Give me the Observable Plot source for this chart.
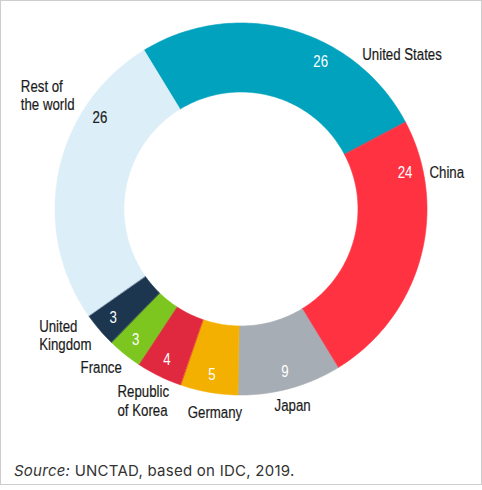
<!DOCTYPE html>
<html>
<head>
<meta charset="utf-8">
<script src="https://cdn.jsdelivr.net/npm/d3@7"></script>
<script src="https://cdn.jsdelivr.net/npm/@observablehq/plot@0.6"></script>
<style>
  body { margin: 0; background: #fff; }
  #frame { position: relative; width: 480px; height: 483px; border: 1px solid #cdcdcd; background: #fff; }
  #chart svg { display: block; }
  #source { position: absolute; left: 13px; top: 461px; font: 15px/18px Inter, "Liberation Sans", sans-serif; letter-spacing: 0.25px; color: #333; }
</style>
</head>
<body>
<div id="frame">
  <div id="chart"></div>
  <div id="source"><i>Source:</i> UNCTAD, based on IDC, 2019.</div>
</div>
<script>
// share of the world's hyperscale data centres (%), clockwise from top
const countries = ["United States", "China", "Japan", "Germany", "Republic of Korea", "France", "United Kingdom", "Rest of the world"]
const labels = ["United States", "China", "Japan", "Germany", "Republic\nof Korea", "France", "United\nKingdom", "Rest of\nthe world"]
const shares = [26, 24, 9, 5, 4, 3, 3, 26]
const colors = ["#00a2bd", "#ff3242", "#a6adb4", "#f3b000", "#e0283e", "#7cc61f", "#1d3650", "#dceef8"]

// ring geometry (in pixel-sized units)
const START = -31.4
const R_OUT = 186
const R_IN = 117
const R_VAL = 168
const font = "'Liberation Sans', Arial, sans-serif"
const NARROW = 0.78 // no condensed face installed, so squeeze the labels

// where the numbers sit when not at the middle of their slice (degrees)
const valueAngle = {"United States": 28.3, "China": 77.5, "Rest of the world": 302.9}
// outer names: angle, radius, anchor
const nameSpot = {
  "United States": [38.0, 197, "start"],
  "China": [79.0, 192, "start"],
  "Japan": [170.3, 199, "start"],
  "Germany": [194.7, 210, "start"],
  "Republic of Korea": [212.8, 228, "start"],
  "France": [217.0, 198, "end"],
  "United Kingdom": [238.0, 238, "start"],
  "Rest of the world": [297.4, 248, "start"]
}

const rad = a => a * Math.PI / 180
const px = (a, r) => r * Math.sin(rad(a))
const py = (a, r) => r * Math.cos(rad(a))

const total = d3.sum(shares)
const slices = []
let acc = 0
countries.forEach((c, i) => {
  const a0 = START + acc / total * 360
  acc += shares[i]
  const a1 = START + acc / total * 360
  slices.push({name: c, label: labels[i], value: shares[i], a0, a1})
})

// polygon outline for each slice
const ring = []
for (const s of slices) {
  const n = Math.max(4, Math.ceil(s.a1 - s.a0))
  for (let k = 0; k <= n; k++) {
    const a = s.a0 + (s.a1 - s.a0) * k / n
    ring.push({name: s.name, x: px(a, R_OUT), y: py(a, R_OUT)})
  }
  for (let k = n; k >= 0; k--) {
    const a = s.a0 + (s.a1 - s.a0) * k / n
    ring.push({name: s.name, x: px(a, R_IN), y: py(a, R_IN)})
  }
}

const values = slices.map(s => {
  const a = valueAngle[s.name] ?? (s.a0 + s.a1) / 2
  return {name: s.name, text: String(s.value), x: px(a, R_VAL), y: py(a, R_VAL)}
})
const names = slices.map(s => {
  const [a, r, anchor] = nameSpot[s.name]
  return {name: s.name, text: s.label, anchor, x: px(a, r), y: py(a, r)}
})

const ink = "#1a1a1a"
const txt = {x: "x", y: "y", text: "text", fontSize: 17}

const chart = Plot.plot({
  width: 480,
  height: 440,
  margin: 0,
  x: {domain: [-239.5, 240.5], axis: null},
  y: {domain: [-232.5, 207.5], axis: null},
  color: {domain: countries, range: colors},
  style: {fontFamily: font, background: "white"},
  marks: [
    Plot.line(ring, {x: "x", y: "y", z: "name", fill: "name", stroke: "name", strokeWidth: 0.6, curve: "linear-closed"}),
    Plot.text(values.filter(d => d.name !== "Rest of the world"), {...txt, fill: "white"}),
    Plot.text(values.filter(d => d.name === "Rest of the world"), {...txt, fill: ink, stroke: ink, strokeWidth: 0.2}),
    Plot.text(names.filter(d => d.anchor === "start"), {...txt, textAnchor: "start", lineHeight: 1.1, fill: ink, stroke: ink, strokeWidth: 0.2}),
    Plot.text(names.filter(d => d.anchor === "end"), {...txt, textAnchor: "end", lineHeight: 1.1, fill: ink, stroke: ink, strokeWidth: 0.2})
  ]
})

// squeeze each label horizontally around its anchor point
d3.select(chart).selectAll("text").each(function () {
  const t = this.getAttribute("transform")
  if (t) this.setAttribute("transform", `${t} scale(${NARROW},1)`)
})

d3.select("#chart").append(() => chart)
</script>
</body>
</html>
